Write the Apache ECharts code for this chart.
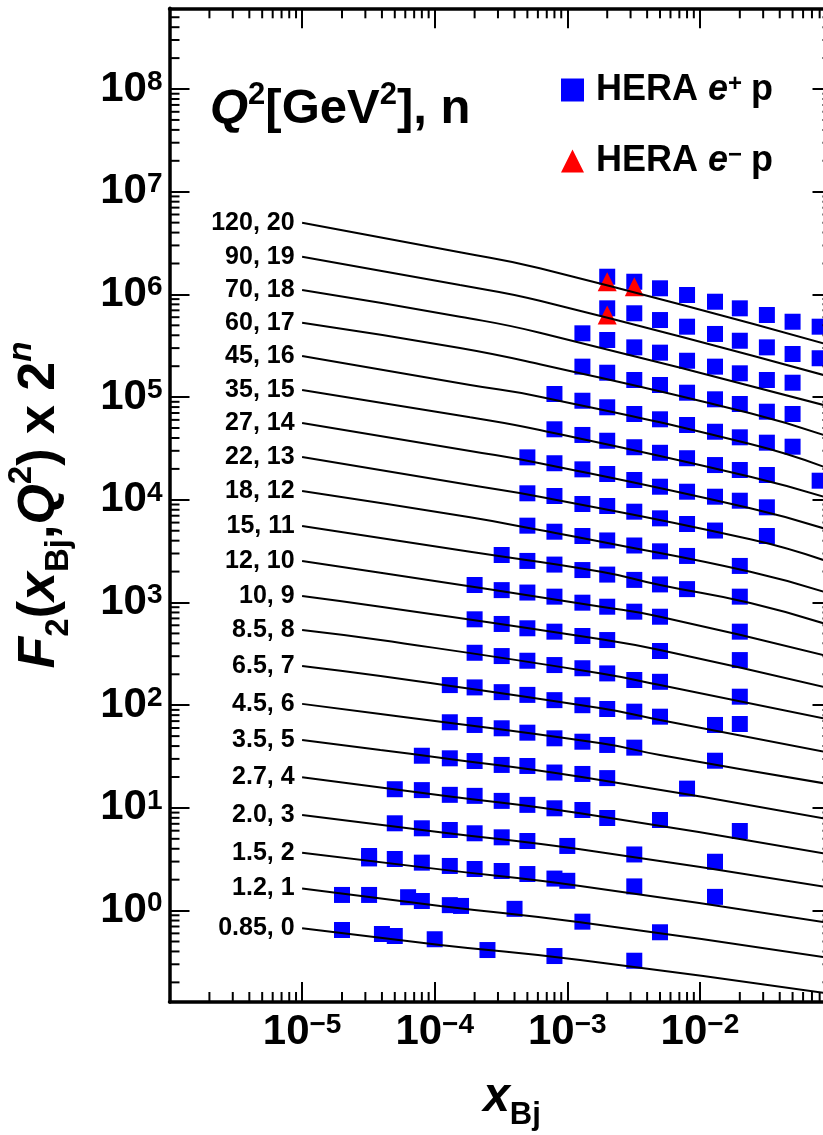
<!DOCTYPE html>
<html>
<head>
  <meta charset="utf-8" />
  <title>F2 HERA</title>
  <script src="https://cdn.jsdelivr.net/npm/echarts@6.0.0/dist/echarts.min.js"></script>
  <style>
    html, body { margin: 0; padding: 0; background: #fff; }
    #main { width: 823px; height: 1135px; }
  </style>
</head>
<body>
  <div id="main"></div>
  <script type="text/javascript">
    // Q2 [GeV2], n  (row n is scaled by 2^n)
    const rowLabels = ['0.85, 0', '1.2, 1', '1.5, 2', '2.0, 3', '2.7, 4', '3.5, 5', '4.5, 6', '6.5, 7',
      '8.5, 8', '10, 9', '12, 10', '15, 11', '18, 12', '22, 13', '27, 14', '35, 15', '45, 16',
      '60, 17', '70, 18', '90, 19', '120, 20'];

    // fit curves, one per row
    const fitLines = [
      [[1e-5, 0.672], [1.1e-4, 0.463], [1.25e-3, 0.330], [0.0855, 0.158]],
      [[1e-5, 1.64], [1.1e-4, 1.11], [1.25e-3, 0.769], [0.0855, 0.353]],
      [[1e-5, 3.66], [1.1e-4, 2.52], [1.25e-3, 1.74], [0.0855, 0.774]],
      [[1e-5, 8.53], [1.1e-4, 5.80], [1.25e-3, 3.95], [0.0855, 1.71]],
      [[1e-5, 19.9], [1.1e-4, 13.3], [1.25e-3, 8.86], [0.0855, 3.61]],
      [[1e-5, 45.8], [3.9e-5, 36.6], [1.1e-4, 30.8], [1.25e-3, 20.1], [0.0855, 7.92]],
      [[1e-5, 103], [3.9e-5, 82.1], [1.8e-3, 42.6], [5e-3, 32.7], [0.0855, 17.4]],
      [[1e-5, 241], [3.9e-5, 192], [1.8e-3, 93.3], [5e-3, 71.8], [0.0855, 35.3]],
      [[1e-5, 540], [3.9e-5, 431], [1.8e-3, 204], [5e-3, 157], [0.0855, 74.6]],
      [[1e-5, 1157], [3.9e-5, 910], [1.8e-3, 438], [5e-3, 345], [0.0855, 151]],
      [[1e-5, 2540], [3.9e-5, 1951], [1.8e-3, 910], [5e-3, 727], [0.0855, 308]],
      [[1e-5, 5560], [1.85e-4, 3120], [1.8e-3, 1995], [5e-3, 1480], [0.024, 989], [0.0855, 627]],
      [[1e-5, 12180], [1.85e-4, 6750], [6.2e-4, 5080], [1.8e-3, 3910], [0.024, 1995], [0.0855, 1274]],
      [[1e-5, 26100], [1.85e-4, 13940], [6.2e-4, 10720], [0.024, 4130], [0.0855, 2590]],
      [[1e-5, 56000], [1.85e-4, 29900], [6.2e-4, 22700], [0.024, 8270], [0.0855, 5280]],
      [[1e-5, 117200], [1.85e-4, 63600], [6.2e-4, 47800], [0.024, 16790], [0.0855, 10720]],
      [[1e-5, 251000], [1.85e-4, 131200], [6.2e-4, 100900], [0.024, 34900], [0.0855, 21000]],
      [[1e-5, 530000], [1.55e-4, 301000], [6.2e-4, 209000], [0.024, 69600], [0.0855, 42800]],
      [[1e-5, 1.103e6], [1.55e-4, 6.07e5], [6.2e-4, 4.24e5], [0.0855, 8.38e4]],
      [[1e-5, 2.33e6], [1.55e-4, 1.234e6], [6.2e-4, 8.68e5], [0.0855, 1.641e5]],
      [[1e-5, 4.99e6], [1.55e-4, 2.57e6], [6.2e-4, 1.795e6], [0.0855, 3.34e5]]
    ];

    // HERA e+p points, per row
    const epPoints = [
      [[2e-5, 0.647], [4e-5, 0.592], [5e-5, 0.566], [1e-4, 0.526], [2.5e-4, 0.413], [8e-4, 0.361], [3.2e-3, 0.325]],
      [[2e-5, 1.42], [3.2e-5, 1.42], [6.3e-5, 1.35], [8e-5, 1.24], [1.3e-4, 1.13], [1.58e-4, 1.11], [4e-4, 1.04], [1.3e-3, 0.78], [5e-3, 0.615]],
      [[3.2e-5, 3.40], [3.2e-5, 3.22], [5e-5, 3.18], [8e-5, 2.93], [1.3e-4, 2.72], [2e-4, 2.54], [3.2e-4, 2.43], [5e-4, 2.27], [8e-4, 2.05], [1e-3, 1.95], [3.2e-3, 1.72], [1.3e-2, 1.36]],
      [[5e-5, 7.08], [8e-5, 6.33], [1.3e-4, 6.09], [2e-4, 5.66], [3.2e-4, 5.17], [5e-4, 4.76], [1e-3, 4.26], [3.2e-3, 3.52], [1.3e-2, 2.99]],
      [[5e-5, 15.2], [8e-5, 14.9], [1.3e-4, 13.4], [2e-4, 13.1], [3.2e-4, 11.7], [5e-4, 10.7], [8e-4, 9.91], [1.3e-3, 9.54], [2e-3, 7.97], [5e-3, 7.62], [2e-2, 5.96]],
      [[8e-5, 32.2], [1.3e-4, 30.4], [2e-4, 28.6], [3.2e-4, 26.2], [5e-4, 25.6], [8e-4, 22.1], [1.3e-3, 21.4], [2e-3, 19.5], [8e-3, 15.4]],
      [[1.3e-4, 68.2], [2e-4, 64.2], [3.2e-4, 59.6], [5e-4, 54.0], [8e-4, 47.6], [1.3e-3, 44.1], [2e-3, 41.0], [3.2e-3, 38.6], [1.3e-2, 28.8]],
      [[1.3e-4, 157], [2e-4, 149], [3.2e-4, 134], [5e-4, 126], [8e-4, 112], [1.3e-3, 100], [2e-3, 91.8], [3.2e-3, 86.5], [5e-3, 77.3], [1.3e-2, 64.2], [2e-2, 65.6]],
      [[2e-4, 324], [3.2e-4, 301], [5e-4, 271], [8e-4, 246], [1.3e-3, 229], [2e-3, 204], [3.2e-3, 176], [5e-3, 169], [2e-2, 121]],
      [[2e-4, 686], [3.2e-4, 618], [5e-4, 561], [8e-4, 520], [1.3e-3, 472], [2e-3, 431], [5e-3, 337], [2e-2, 275]],
      [[2e-4, 1480], [3.2e-4, 1320], [5e-4, 1250], [8e-4, 1140], [1.3e-3, 996], [2e-3, 910], [3.2e-3, 814], [5e-3, 727], [2e-2, 520]],
      [[3.2e-4, 2900], [5e-4, 2540], [8e-4, 2340], [1.3e-3, 2070], [2e-3, 1870], [3.2e-3, 1660], [5e-3, 1500], [8e-3, 1350], [2e-2, 1140]],
      [[5e-4, 5600], [8e-4, 4890], [1.3e-3, 4440], [2e-3, 4020], [3.2e-3, 3590], [5e-3, 3150], [8e-3, 2840], [2e-2, 2270]],
      [[5e-4, 11570], [8e-4, 10890], [1.3e-3, 9100], [2e-3, 8700], [3.2e-3, 7660], [5e-3, 6600], [8e-3, 5810], [1.3e-2, 5020], [3.2e-2, 4440]],
      [[5e-4, 25900], [8e-4, 22700], [1.3e-3, 19800], [2e-3, 17840], [3.2e-3, 15590], [5e-3, 13410], [8e-3, 11990], [1.3e-2, 10720], [2e-2, 9800], [3.2e-2, 8450]],
      [[8e-4, 48600], [1.3e-3, 42800], [2e-3, 37600], [3.2e-3, 32500], [5e-3, 28700], [8e-3, 25400], [1.3e-2, 21800], [2e-2, 19500], [3.2e-2, 17440], [8e-2, 15350]],
      [[8e-4, 1.072e5], [1.3e-3, 9.22e4], [2e-3, 7.96e4], [3.2e-3, 6.85e4], [5e-3, 6.08e4], [8e-3, 5.35e4], [1.3e-2, 4.60e4], [2e-2, 4.06e4], [3.2e-2, 3.60e4], [5e-2, 3.29e4]],
      [[1.3e-3, 1.98e5], [2e-3, 1.728e5], [3.2e-3, 1.467e5], [5e-3, 1.312e5], [8e-3, 1.104e5], [1.3e-2, 9.52e4], [2e-2, 8.57e4], [3.2e-2, 7.21e4], [5e-2, 6.85e4]],
      [[1.3e-3, 4.18e5], [2e-3, 3.60e5], [3.2e-3, 3.05e5], [5e-3, 2.71e5], [8e-3, 2.26e5], [1.3e-2, 1.98e5], [2e-2, 1.705e5], [3.2e-2, 1.467e5], [5e-2, 1.381e5]],
      [[2e-3, 7.32e5], [3.2e-3, 6.55e5], [5e-3, 5.63e5], [8e-3, 4.85e5], [1.3e-2, 4.12e5], [2e-2, 3.54e5], [3.2e-2, 3.05e5], [5e-2, 2.63e5], [8e-2, 2.39e5]],
      [[2e-3, 1.487e6], [3.2e-3, 1.329e6], [5e-3, 1.147e6], [8e-3, 9.87e5], [1.3e-2, 8.49e5], [2e-2, 7.32e5], [3.2e-2, 6.30e5], [5e-2, 5.42e5], [8e-2, 4.85e5]]
    ];

    // HERA e-p points
    const emPoints = [[2e-3, 1.329e6], [3.2e-3, 1.189e6], [2e-3, 6.30e5]];

    const xTickExp = [-5, -4, -3, -2];
    const yTickExp = [0, 1, 2, 3, 4, 5, 6, 7, 8];
    const X_MIN = 1e-6, X_MAX = 0.1;
    const Y_MIN = 0.1288, Y_MAX = 6.11e8;

    const FONT = '"Liberation Sans", Arial, Helvetica, sans-serif';

    var myChart = echarts.init(document.getElementById('main'), null, { renderer: 'canvas' });

    function tok(size, extra) {
      return Object.assign({ fontFamily: FONT, fontWeight: 'bold', fontSize: size, color: '#000', fill: '#000' }, extra || {});
    }

    const tickRich = {
      b: tok(42, { lineHeight: 42, verticalAlign: 'bottom' }),
      s: tok(28, { lineHeight: 28, padding: [0, 0, 28, 0], verticalAlign: 'top' })
    };

    function powLabel(allowed) {
      return function (v) {
        const e = Math.log10(v);
        const r = Math.round(e);
        if (Math.abs(e - r) > 1e-6 || allowed.indexOf(r) < 0) return '';
        return '{b|10}{s|' + String(r).replace('-', '\u2212') + '}';
      };
    }

    const spine = { show: true, onZero: false, lineStyle: { color: '#000', width: 3.5 } };
    const major = { show: true, inside: true, length: 20, lineStyle: { color: '#000', width: 2 } };

    // minor ticks 2..9 on all four sides of the frame
    function minorTicks(params, api) {
      const cs = params.coordSys;
      const L = cs.x, R = cs.x + cs.width, T = cs.y, B = cs.y + cs.height;
      const kids = [];
      const seg = (x1, y1, x2, y2) => kids.push({
        type: 'line', shape: { x1: x1, y1: y1, x2: x2, y2: y2 },
        style: { stroke: '#000', lineWidth: 2 }
      });
      for (let k = -6; k < -1; k++) {
        for (let m = 2; m < 10; m++) {
          const px = api.coord([m * Math.pow(10, k), 1])[0];
          seg(px, B, px, B - 10);
          seg(px, T, px, T + 10);
        }
      }
      for (let k = -1; k < 9; k++) {
        for (let m = 2; m < 10; m++) {
          const v = m * Math.pow(10, k);
          if (v < Y_MIN || v > Y_MAX) continue;
          const py = api.coord([1e-3, v])[1];
          seg(L, py, L + 10, py);
          seg(R, py, R - 10, py);
        }
      }
      return { type: 'group', children: kids };
    }

    const series = [];
    series.push({
      type: 'custom', renderItem: minorTicks, data: [[1e-3, 1]],
      silent: true, clip: false, z: 10
    });

    series.push({
      name: 'HERA e+p', type: 'scatter', symbol: 'rect', symbolSize: 16,
      itemStyle: { color: '#0000ff', opacity: 1 },
      data: [].concat.apply([], epPoints), z: 2, silent: true
    });
    series.push({
      name: 'HERA e\u2212p', type: 'scatter', symbol: 'triangle', symbolSize: 19,
      itemStyle: { color: '#ff0000', opacity: 1 },
      data: emPoints, z: 3, silent: true
    });

    fitLines.forEach(function (pts, i) {
      series.push({
        name: 'fit' + i, type: 'line', data: pts, smooth: 0.5,
        symbol: 'none', lineStyle: { color: '#000', width: 2 }, z: 4, silent: true
      });
    });

    series.push({
      name: 'rows', type: 'scatter', symbol: 'circle', symbolSize: 1,
      itemStyle: { color: 'rgba(0,0,0,0)', opacity: 1 }, silent: true, z: 5,
      data: rowLabels.map(function (t, i) { return { value: fitLines[i][0], label: { formatter: t } }; }),
      label: {
        show: true, position: 'left', distance: 7, opacity: 1,
        fontFamily: FONT, fontWeight: 'bold', fontSize: 25, color: '#000'
      }
    });

    const legendRich = {
      b: tok(36, { lineHeight: 36, verticalAlign: 'bottom' }),
      i: tok(36, { lineHeight: 36, verticalAlign: 'bottom', fontStyle: 'italic' }),
      s: tok(24, { lineHeight: 24, padding: [0, 9, 18, 0], verticalAlign: 'top' })
    };

    const titleRich = {
      r: tok(52, { lineHeight: 52 }),
      it: tok(52, { lineHeight: 52, fontStyle: 'italic' }),
      sub: tok(33, { lineHeight: 33, padding: [37, 0, 0, 0] }),
      sup: tok(33, { lineHeight: 33, padding: [0, 0, 37, 0] }),
      supi: tok(33, { lineHeight: 33, padding: [0, 0, 37, 0], fontStyle: 'italic' })
    };
    const xTitleRich = {
      it: tok(48, { lineHeight: 48, fontStyle: 'italic' }),
      sub: tok(31, { lineHeight: 31, padding: [34, 0, 0, 0] })
    };
    const qRich = {
      r: tok(49, { lineHeight: 49, verticalAlign: 'bottom' }),
      it: tok(49, { lineHeight: 49, verticalAlign: 'bottom', fontStyle: 'italic' }),
      sup: tok(31, { lineHeight: 31, padding: [0, 0, 28, 0] })
    };

    const option = {
      backgroundColor: '#fff',
      animation: false,
      grid: {
        left: 169.5, right: -9.5, top: 8.3, bottom: 133,
        containLabel: false, outerBoundsMode: 'none'
      },
      legend: {
        data: ['HERA e+p', 'HERA e\u2212p'],
        orient: 'vertical', left: 556, top: 67, itemGap: 29,
        itemWidth: 23, itemHeight: 23,
        formatter: function (name) {
          return name === 'HERA e+p' ? '{b|HERA }{i|e}{s|+}{b|p}' : '{b|HERA }{i|e}{s|\u2212}{b|p}';
        },
        textStyle: { padding: [0, 0, 0, 7], rich: legendRich },
        selectedMode: false
      },
      xAxis: [{
        type: 'log', logBase: 10, min: X_MIN, max: X_MAX, position: 'bottom', splitNumber: 5,
        axisLine: spine, axisTick: major, splitLine: { show: false }, minorTick: { show: false },
        axisLabel: { show: true, margin: 9, formatter: powLabel(xTickExp), rich: tickRich, hideOverlap: false }
      }, {
        type: 'log', logBase: 10, min: X_MIN, max: X_MAX, position: 'top', splitNumber: 5,
        axisLine: spine, axisTick: major, splitLine: { show: false }, axisLabel: { show: false }
      }],
      yAxis: [{
        type: 'log', logBase: 10, min: Y_MIN, max: Y_MAX, position: 'left', splitNumber: 10,
        axisLine: spine, axisTick: major, splitLine: { show: false }, minorTick: { show: false },
        axisLabel: { show: true, margin: 7, formatter: powLabel(yTickExp), rich: tickRich, hideOverlap: false }
      }, {
        type: 'log', logBase: 10, min: Y_MIN, max: Y_MAX, position: 'right', splitNumber: 10,
        axisLine: spine, axisTick: major, splitLine: { show: false }, axisLabel: { show: false }
      }],
      graphic: [{
        type: 'text', x: 40, y: 505, rotation: Math.PI / 2, silent: true,
        style: {
          text: '{it|F}{sub|2}{r|(}{it|x}{sub|Bj}{r|,}{it|Q}{sup|2}{r|) x 2}{supi|n}',
          rich: titleRich, align: 'center', verticalAlign: 'middle', fill: '#000'
        }
      }, {
        type: 'text', x: 512, y: 1098, silent: true,
        style: {
          text: '{it|x}{sub|Bj}',
          rich: xTitleRich, align: 'center', verticalAlign: 'middle', fill: '#000'
        }
      }, {
        type: 'text', x: 210, y: 109, silent: true,
        style: {
          text: '{it|Q}{sup|2}{r|[GeV}{sup|2}{r|], n}',
          rich: qRich, align: 'left', verticalAlign: 'middle', fill: '#000'
        }
      }],
      series: series
    };

    myChart.setOption(option);
  </script>
</body>
</html>
